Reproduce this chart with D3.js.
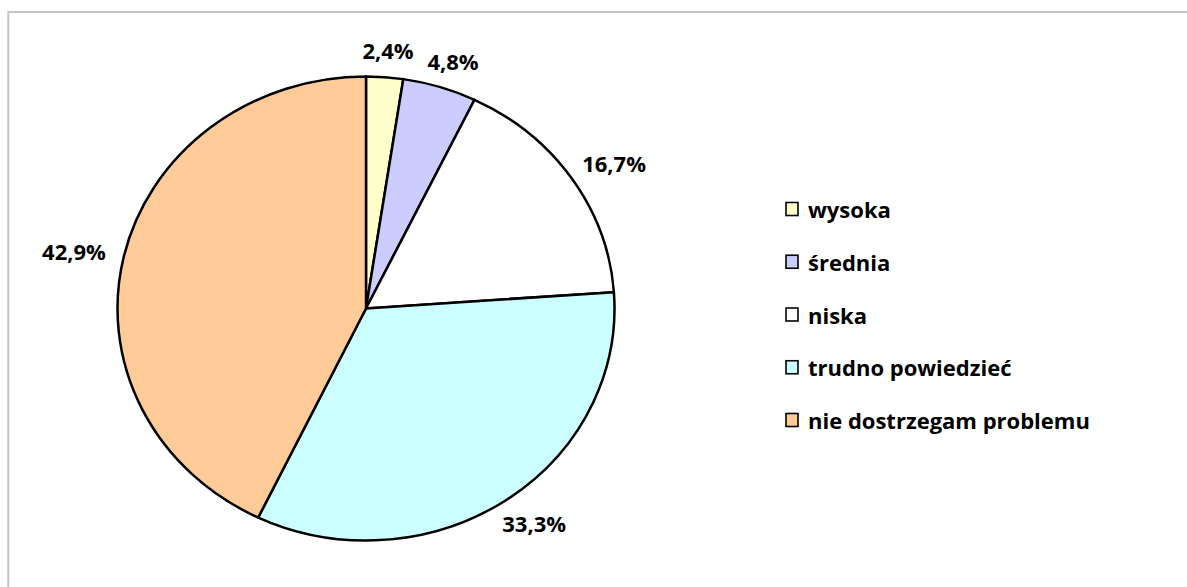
<!DOCTYPE html>
<html>
<head>
<meta charset="utf-8">
<script src="https://cdn.jsdelivr.net/npm/d3@7"></script>
<style>
  body { margin: 0; background: #fff; }
  text { font-family: "Open Sans", Lato, sans-serif; font-weight: bold; fill: #000; }
</style>
</head>
<body>
<svg id="chart"></svg>
<script>
// data
const categories = ["wysoka", "średnia", "niska", "trudno powiedzieć", "nie dostrzegam problemu"];
const values = [2.4, 4.8, 16.7, 33.3, 42.9];
const labels = ["2,4%", "4,8%", "16,7%", "33,3%", "42,9%"];
const colors = ["#FFFFCC", "#CCCCFF", "#FFFFFF", "#CCFFFF", "#FFCC99"];

class PieChart {
    constructor(svg, width = 1187, height = 587) {
        this.svg = svg;
        this.width = width;
        this.height = height;
        this.cx = 366;
        this.cy = 308.5;
        this.rx = 248.5;
        this.ry = 232;
    }

    initialize() {
        this.svg = d3.select(this.svg)
            .attr("width", this.width)
            .attr("height", this.height);

        // outer frame (runs off the right / bottom edge)
        this.svg.append("rect")
            .attr("x", 8.3).attr("y", 12)
            .attr("width", this.width + 20).attr("height", this.height + 20)
            .attr("fill", "none")
            .attr("stroke", "#c4c4c4")
            .attr("stroke-width", 2);

        this.pieG = this.svg.append("g")
            .attr("transform", `translate(${this.cx},${this.cy}) scale(${this.rx / this.ry},1)`);
        this.labelG = this.svg.append("g");
        this.legend = this.svg.append("g").attr("transform", "translate(785,0)");
    }

    update() {
        const pie = d3.pie().sort(null).value(d => d)(values);
        const arc = d3.arc().innerRadius(0).outerRadius(this.ry);

        this.pieG.selectAll("path")
            .data(pie)
            .join("path")
            .attr("d", arc)
            .attr("fill", (d, i) => colors[i])
            .attr("stroke", "#000")
            .attr("stroke-width", 2.5)
            .attr("stroke-linejoin", "round")
            .attr("vector-effect", "non-scaling-stroke");

        // labels outside the edge, text box pushed out along the mid angle
        const off = 19;
        const lab = this.labelG.selectAll("text")
            .data(pie)
            .join("text")
            .attr("font-size", 22)
            .attr("text-anchor", "middle")
            .attr("dominant-baseline", "central")
            .text((d, i) => labels[i]);

        const self = this;
        lab.each(function (d) {
            const bb = this.getBBox();
            const a = (d.startAngle + d.endAngle) / 2;
            const ux = Math.sin(a), uy = -Math.cos(a);
            const ex = self.cx + self.rx * ux, ey = self.cy + self.ry * uy;
            const x = ex + off * ux + ux * bb.width / 2;
            const y = ey + off * uy + uy * 16 / 2;
            d3.select(this).attr("x", x).attr("y", y);
        });

        const yRow = d3.scalePoint().domain(categories).range([209, 420]);

        const rows = this.legend.selectAll("g")
            .data(categories)
            .join("g")
            .attr("transform", d => `translate(0,${yRow(d)})`);

        rows.append("rect")
            .attr("x", 1).attr("y", -6.5)
            .attr("width", 12).attr("height", 13)
            .attr("fill", (d, i) => colors[i])
            .attr("stroke", "#000")
            .attr("stroke-width", 1.6);

        rows.append("text")
            .attr("x", 23)
            .attr("y", 0)
            .attr("dominant-baseline", "central")
            .attr("font-size", 22)
            .text(d => d);
    }
}

const chart = new PieChart("#chart");
chart.initialize();
chart.update();
</script>
</body>
</html>
